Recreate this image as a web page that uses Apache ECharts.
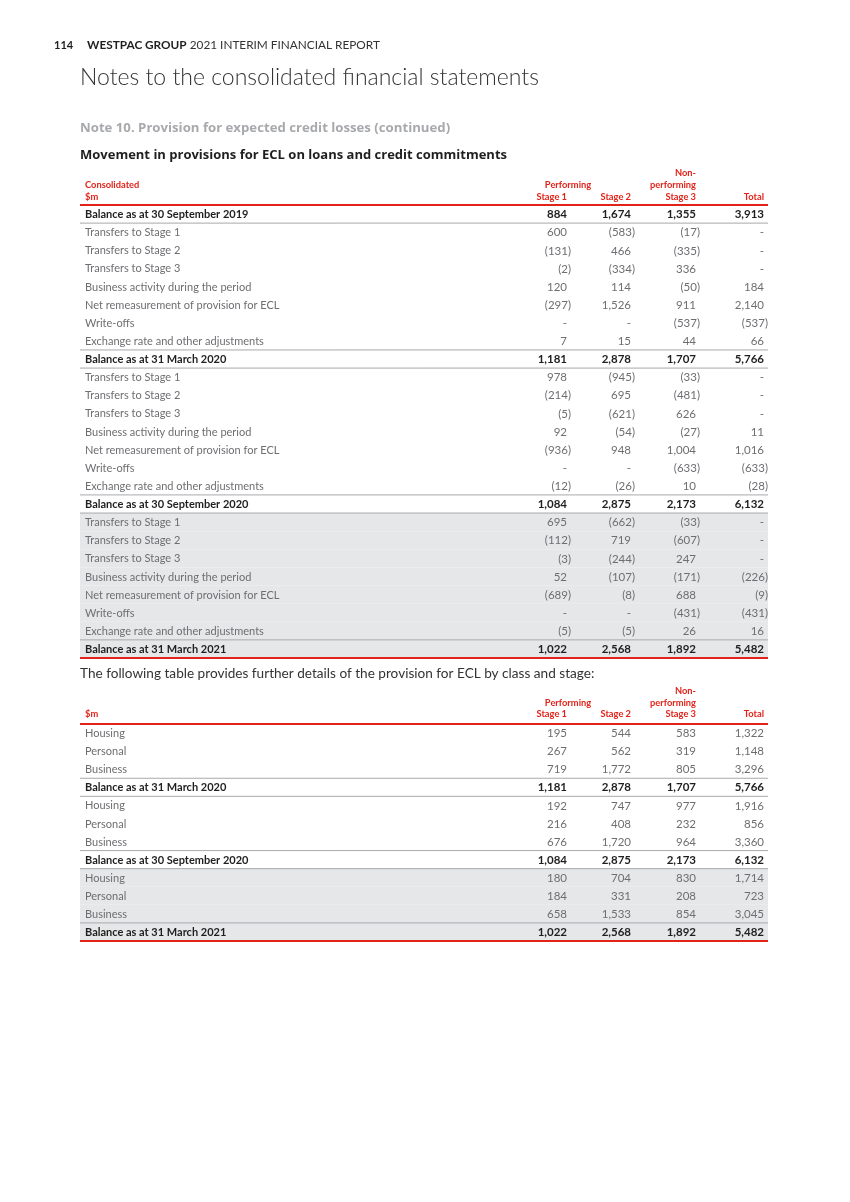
<!DOCTYPE html>
<html><head><meta charset="utf-8">
<script src="https://cdn.jsdelivr.net/npm/echarts@6/dist/echarts.min.js"></script>
<style>html,body{margin:0;padding:0;background:#fff}#c{width:850px;height:1202px}</style>
</head><body><div id="c"></div>
<script>
// ---------- DATA ----------
const t1Labels = [
  'Balance as at 30 September 2019',
  'Transfers to Stage 1','Transfers to Stage 2','Transfers to Stage 3',
  'Business activity during the period','Net remeasurement of provision for ECL',
  'Write-offs','Exchange rate and other adjustments',
  'Balance as at 31 March 2020',
  'Transfers to Stage 1','Transfers to Stage 2','Transfers to Stage 3',
  'Business activity during the period','Net remeasurement of provision for ECL',
  'Write-offs','Exchange rate and other adjustments',
  'Balance as at 30 September 2020',
  'Transfers to Stage 1','Transfers to Stage 2','Transfers to Stage 3',
  'Business activity during the period','Net remeasurement of provision for ECL',
  'Write-offs','Exchange rate and other adjustments',
  'Balance as at 31 March 2021'
];
const t1Stage1 = [884, 600,-131,-2,120,-297,null,7, 1181, 978,-214,-5,92,-936,null,-12, 1084, 695,-112,-3,52,-689,null,-5, 1022];
const t1Stage2 = [1674, -583,466,-334,114,1526,null,15, 2878, -945,695,-621,-54,948,null,-26, 2875, -662,719,-244,-107,-8,null,-5, 2568];
const t1Stage3 = [1355, -17,-335,336,-50,911,-537,44, 1707, -33,-481,626,-27,1004,-633,10, 2173, -33,-607,247,-171,688,-431,26, 1892];
const t1Total  = [3913, null,null,null,184,2140,-537,66, 5766, null,null,null,11,1016,-633,-28, 6132, null,null,null,-226,-9,-431,16, 5482];

const t2Labels = [
  'Housing','Personal','Business','Balance as at 31 March 2020',
  'Housing','Personal','Business','Balance as at 30 September 2020',
  'Housing','Personal','Business','Balance as at 31 March 2021'
];
const t2Stage1 = [195,267,719,1181, 192,216,676,1084, 180,184,658,1022];
const t2Stage2 = [544,562,1772,2878, 747,408,1720,2875, 704,331,1533,2568];
const t2Stage3 = [583,319,805,1707, 977,232,964,2173, 830,208,854,1892];
const t2Total  = [1322,1148,3296,5766, 1916,856,3360,6132, 1714,723,3045,5482];

const colHeads = ['Stage 1','Stage 2','Stage 3','Total'];

// ---------- STYLE / LAYOUT ----------
const RED = '#e2231a', DARK = '#1f1f1f', GREY = '#6d6e71', LINE = '#a7a9ac', SHADE = '#e6e7e8';
const FONT = 'Lato, "Open Sans", sans-serif';
const HFONT = '"Open Sans", Lato, sans-serif';
const X0 = 80, X1 = 768, LABEL_X = 85;
const COLS = [567, 631, 696, 764];

function fmt(v){
  if (v === null || v === undefined) return '-';
  const s = Math.abs(v).toLocaleString('en-US');
  return v < 0 ? '(' + s + ')' : s;
}
function isBold(lbl){ return lbl.indexOf('Balance') === 0; }

const chart = echarts.init(document.getElementById('c'), null, {renderer:'canvas'});

function makeTable(gi, labels, cols, shadeFrom){
  const n = labels.length;
  const data = labels.map((l,i)=>[0,i]);
  const bg = {
    type:'custom', xAxisIndex:gi, yAxisIndex:gi, z:1, silent:true,
    data: data,
    renderItem(params, api){
      const i = api.value(1);
      if (i < shadeFrom) return null;
      const y = api.coord([0,i])[1];
      const h = api.size([0,1])[1];
      const xa = api.coord([X0,i])[0], xb = api.coord([X1,i])[0];
      return {type:'rect', shape:{x:xa, y:y-h/2, width:xb-xa, height:h}, style:{fill:SHADE}};
    }
  };
  const fg = {
    type:'custom', xAxisIndex:gi, yAxisIndex:gi, z:2, silent:true,
    data: data,
    renderItem(params, api){
      const i = api.value(1);
      const y = api.coord([0,i])[1];
      const h = api.size([0,1])[1];
      const xa = api.coord([X0,i])[0], xb = api.coord([X1,i])[0];
      const bold = isBold(labels[i]);
      const children = [];
      children.push({type:'text', style:{text:labels[i], x:api.coord([LABEL_X,i])[0], y:y+0.5,
        align:'left', verticalAlign:'middle', textAlign:'left', textVerticalAlign:'middle',
        fontFamily:FONT, fontSize:11, fontWeight: bold?'bold':'normal', fill: bold?DARK:GREY}});
      cols.forEach((arr,k)=>{
        const v = arr[i];
        const xr = api.coord([COLS[k] + (v!==null && v<0 ? 4 : 0), i])[0];
        children.push({type:'text', style:{text:fmt(v), x:xr, y:y+0.5,
          align:'right', verticalAlign:'middle', textAlign:'right', textVerticalAlign:'middle',
          fontFamily:FONT, fontSize:11.5, fontWeight: bold?'bold':'normal', fill: bold?DARK:GREY}});
      });
      const top = y - h/2, bot = y + h/2;
      if (i === 0) {
        children.push({type:'line', shape:{x1:xa,y1:top,x2:xb,y2:top}, style:{stroke:RED, lineWidth:2}});
      }
      if (bold) {
        if (i !== 0) children.push({type:'line', shape:{x1:xa,y1:top,x2:xb,y2:top}, style:{stroke:LINE, lineWidth:1}});
        if (i === n-1) children.push({type:'line', shape:{x1:xa,y1:bot,x2:xb,y2:bot}, style:{stroke:RED, lineWidth:2}});
        else children.push({type:'line', shape:{x1:xa,y1:bot,x2:xb,y2:bot}, style:{stroke:LINE, lineWidth:1}});
      }
      return {type:'group', children};
    }
  };
  return [bg, fg];
}

const hdrStyle = (txt, x, y, align) => ({type:'text', x:x, y:y,
  style:{text:txt, x:0, y:0, align:align, textAlign:align, verticalAlign:'middle', textVerticalAlign:'middle',
  fontFamily:FONT, fontSize:9.3, fontWeight:'bold', fill:RED}});

function headers(yNon, yPerf, yStage, withConsolidated){
  const g = [];
  g.push(hdrStyle('Non-', COLS[2], yNon, 'right'));
  g.push(hdrStyle('performing', COLS[2], yPerf, 'right'));
  g.push(hdrStyle('Performing', 568, yPerf, 'center'));
  colHeads.forEach((c,k)=> g.push(hdrStyle(c, COLS[k], yStage, 'right')));
  if (withConsolidated) g.push(hdrStyle('Consolidated', LABEL_X, yPerf, 'left'));
  g.push(hdrStyle('$m', LABEL_X, yStage, 'left'));
  return g;
}

const plain = (txt, x, y, size, weight, fill, family) => ({type:'text', x:x, y:y,
  style:{text:txt, x:0, y:0, verticalAlign:'middle', textVerticalAlign:'middle',
  fontFamily:family||FONT, fontSize:size, fontWeight:weight, fill:fill}});

const graphics = [
  plain('114', 54, 45, 11, 'bold', '#1f1f1f'),
  {type:'text', x:87, y:45, style:{text:'{b|WESTPAC GROUP} 2021 INTERIM FINANCIAL REPORT', x:0, y:0,
    verticalAlign:'middle', textVerticalAlign:'middle', fontFamily:FONT, fontSize:11.8, fill:'#333',
    rich:{b:{fontFamily:FONT, fontSize:11.8, fontWeight:'bold', fill:'#1f1f1f'}}}},
  plain('Notes to the consolidated financial statements', 80, 78, 23, 300, '#333'),
  plain('Note 10. Provision for expected credit losses (continued)', 80, 128, 13.2, 'bold', '#a7a9ac', HFONT),
  plain('Movement in provisions for ECL on loans and credit commitments', 80, 155, 13, 'bold', '#1f1f1f', HFONT),
  plain('The following table provides further details of the provision for ECL by class and stage:', 80, 674, 13.6, 'normal', '#333'),
  ...headers(173, 185, 197, true),
  ...headers(691, 703, 714, false)
];

const option = {
  backgroundColor:'#fff',
  animation:false,
  grid:[
    {left:0, right:0, top:205, height:453},
    {left:0, right:0, top:724, height:217}
  ],
  xAxis:[
    {type:'value', gridIndex:0, min:0, max:850, show:false},
    {type:'value', gridIndex:1, min:0, max:850, show:false}
  ],
  yAxis:[
    {type:'category', gridIndex:0, data:t1Labels.map((l,i)=>i), inverse:true, show:false},
    {type:'category', gridIndex:1, data:t2Labels.map((l,i)=>i), inverse:true, show:false}
  ],
  graphic: graphics,
  series:[
    ...makeTable(0, t1Labels, [t1Stage1,t1Stage2,t1Stage3,t1Total], 17),
    ...makeTable(1, t2Labels, [t2Stage1,t2Stage2,t2Stage3,t2Total], 8)
  ]
};
chart.setOption(option);
</script>
</body></html>
